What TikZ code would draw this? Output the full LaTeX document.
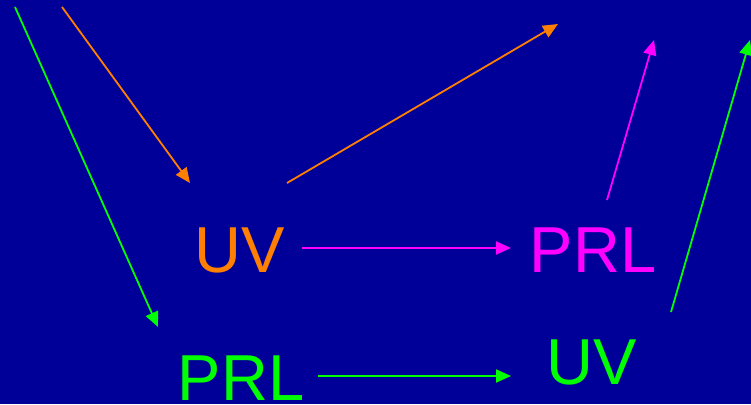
\documentclass[tikz,border=0pt]{standalone}
\usepackage{fontspec}
\setmainfont{Liberation Sans}
\usetikzlibrary{arrows.meta}
\definecolor{bgblue}{HTML}{000099}
\definecolor{oran}{HTML}{FF8000}
\definecolor{magen}{HTML}{FF00FF}
\definecolor{gree}{HTML}{00FF00}
\tikzset{
  lbl/.style={anchor=base, inner sep=0pt, font=\fontsize{65}{70}\selectfont},
  arr/.style={line width=1.8pt, -{Triangle[length=15pt,width=13pt]}}
}
\begin{document}
\begin{tikzpicture}[x=1pt,y=-1pt]
\fill[bgblue] (0,0) rectangle (751,404);
\useasboundingbox (0,0) rectangle (751,404);
% labels
\node[lbl, text=oran] (uvA) at (240,272) {UV};
\node[lbl, text=magen] (prlA) at (593,272) {PRL};
\node[lbl, text=gree] (prlB) at (241,400) {PRL};
\node[lbl, text=gree] (uvB) at (592,384) {UV};
% endpoints
\coordinate (g1s) at (15,7);
\coordinate (g1e) at (158,327);
\coordinate (o1s) at (62,7);
\coordinate (o1e) at (190,183);
\coordinate (o2s) at (287,183);
\coordinate (o2e) at (558,24);
\coordinate (m1s) at (607,200);
\coordinate (m1e) at (654,40);
\coordinate (g2s) at (671,312);
\coordinate (g2e) at (750,40);
\coordinate (mhs) at (302,248);
\coordinate (mhe) at (511,248);
\coordinate (ghs) at (318,376);
\coordinate (ghe) at (511,376);
% arrows
\draw[arr, gree] (g1s) -- (g1e);
\draw[arr, oran] (o1s) -- (o1e);
\draw[arr, oran] (o2s) -- (o2e);
\draw[arr, magen] (m1s) -- (m1e);
\draw[arr, gree] (g2s) -- (g2e);
\draw[arr, magen] (mhs) -- (mhe);
\draw[arr, gree] (ghs) -- (ghe);
\end{tikzpicture}
\end{document}
